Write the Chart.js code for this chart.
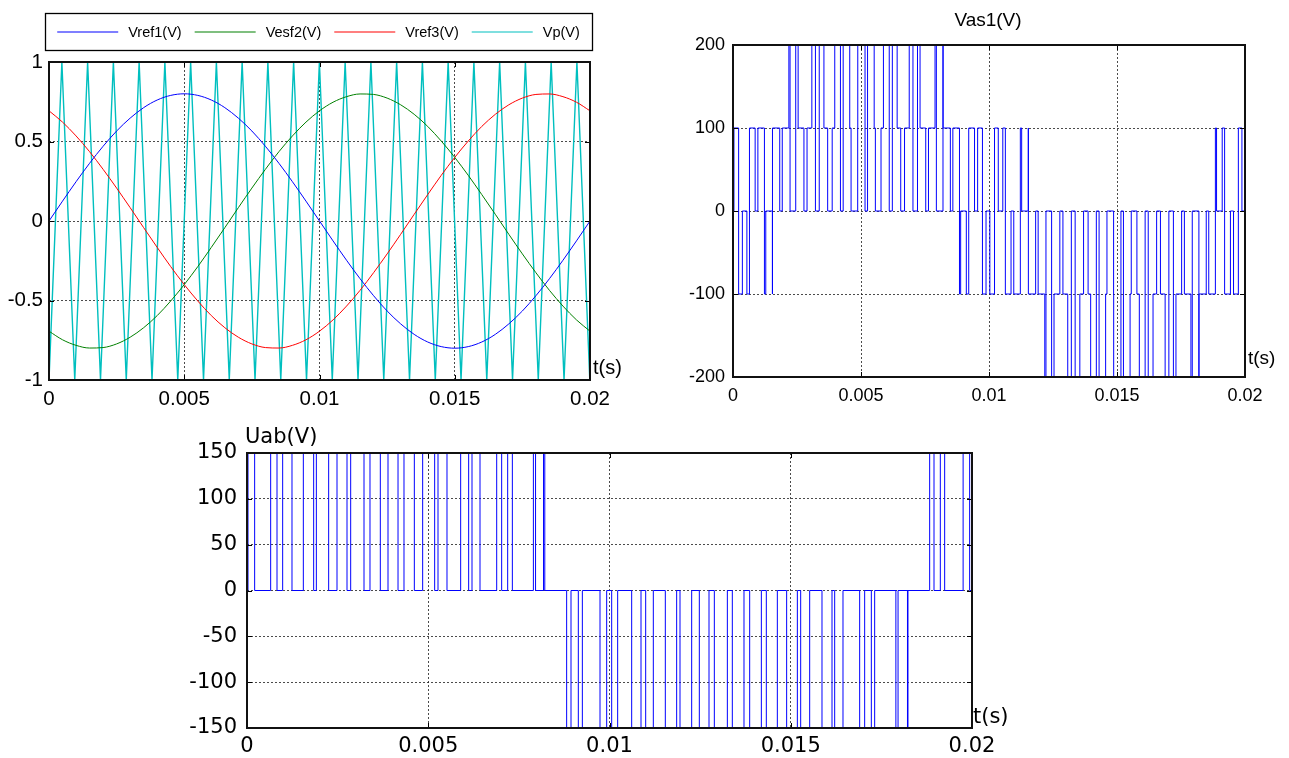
<!DOCTYPE html>
<html>
<head>
<meta charset="utf-8">
<script src="https://cdn.jsdelivr.net/npm/chart.js@4.4.1/dist/chart.umd.min.js"></script>
<style>
  html, body { margin: 0; padding: 0; background: #ffffff; }
  body { width: 1289px; height: 758px; position: relative; overflow: hidden; }
  canvas { position: absolute; left: 0; top: 0; }
</style>
</head>
<body>
<canvas id="c1" width="1289" height="758"></canvas>
<canvas id="c2" width="1289" height="758"></canvas>
<canvas id="c3" width="1289" height="758"></canvas>
<script>
// ---------------- DATA ----------------
// Top-left: reference sines (time in s)
const sineTime = [0,0.0005,0.001,0.0015,0.002,0.0025,0.003,0.0035,0.004,0.0045,0.005,0.0055,0.006,0.0065,0.007,0.0075,0.008,0.0085,0.009,0.0095,0.01,0.0105,0.011,0.0115,0.012,0.0125,0.013,0.0135,0.014,0.0145,0.015,0.0155,0.016,0.0165,0.017,0.0175,0.018,0.0185,0.019,0.0195,0.02];
const vref1 = [0,0.125,0.247,0.363,0.470,0.566,0.647,0.713,0.761,0.790,0.800,0.790,0.761,0.713,0.647,0.566,0.470,0.363,0.247,0.125,0,-0.125,-0.247,-0.363,-0.470,-0.566,-0.647,-0.713,-0.761,-0.790,-0.800,-0.790,-0.761,-0.713,-0.647,-0.566,-0.470,-0.363,-0.247,-0.125,0];
const vesf2 = [-0.693,-0.747,-0.782,-0.799,-0.796,-0.773,-0.731,-0.671,-0.595,-0.503,-0.400,-0.287,-0.166,-0.042,0.084,0.207,0.325,0.436,0.535,0.622,0.693,0.747,0.782,0.799,0.796,0.773,0.731,0.671,0.595,0.503,0.400,0.287,0.166,0.042,-0.084,-0.207,-0.325,-0.436,-0.535,-0.622,-0.693];
const vref3 = [0.693,0.622,0.535,0.436,0.325,0.207,0.084,-0.042,-0.166,-0.287,-0.400,-0.503,-0.595,-0.671,-0.731,-0.773,-0.796,-0.799,-0.782,-0.747,-0.693,-0.622,-0.535,-0.436,-0.325,-0.207,-0.084,0.042,0.166,0.287,0.400,0.503,0.595,0.671,0.731,0.773,0.796,0.799,0.782,0.747,0.693];
// Carrier Vp vertices (time in ms)
const vpTime = [0,0.476,0.952,1.428,1.904,2.380,2.856,3.332,3.808,4.284,4.760,5.236,5.712,6.188,6.664,7.140,7.616,8.092,8.568,9.044,9.520,9.996,10.472,10.948,11.424,11.900,12.376,12.852,13.328,13.804,14.280,14.756,15.232,15.708,16.184,16.660,17.136,17.612,18.088,18.564,19.040,19.516,19.992];
const vpValue = [-1,1,-1,1,-1,1,-1,1,-1,1,-1,1,-1,1,-1,1,-1,1,-1,1,-1,1,-1,1,-1,1,-1,1,-1,1,-1,1,-1,1,-1,1,-1,1,-1,1,-1,1,-1];

// Top-right: Vas1 switching instants (ms) and level held from that instant (V)
const vasTime = [0,0.037,0.220,0.366,
 0.543,0.643,0.865,0.972,1.228,1.280,
 1.539,1.542,1.826,1.924,2.183,2.229,
 2.450,2.544,2.771,2.892,3.080,3.220,
 3.369,3.552,3.698,3.875,3.975,4.197,
 4.304,4.560,4.612,4.871,4.874,5.158,
 5.256,5.515,5.561,5.782,5.876,6.103,
 6.224,6.412,6.552,6.701,6.884,7.030,
 7.207,7.307,7.529,7.636,7.892,7.944,
 8.203,8.206,8.490,8.588,8.847,8.893,
 9.114,9.208,9.435,9.556,9.744,9.884,
 10.033,10.216,10.362,10.539,10.639,10.861,
 10.968,11.224,11.276,11.535,11.538,11.822,
 11.920,12.179,12.225,12.446,12.540,12.767,
 12.888,13.076,13.216,13.365,13.548,13.694,
 13.871,13.971,14.193,14.300,14.556,14.608,
 14.867,14.870,15.154,15.252,15.511,15.557,
 15.778,15.872,16.099,16.220,16.408,16.548,
 16.697,16.880,17.026,17.203,17.303,17.525,
 17.632,17.888,17.940,18.199,18.202,18.486,
 18.584,18.843,18.889,19.110,19.204,19.431,
 19.552,19.740,19.880,20.000];
const vasValue = [0,100,-100,0,
 -100,100,0,100,-100,0,
 -100,100,0,100,200,0,
 200,100,0,100,200,0,
 200,100,0,100,200,0,
 200,100,0,100,200,0,
 200,100,0,100,200,0,
 200,100,0,100,200,0,
 200,100,0,100,200,0,
 200,100,0,100,-100,0,
 -100,100,0,100,-100,0,
 -100,100,0,100,-100,0,
 -100,100,0,100,-100,0,
 -100,-200,0,-200,-100,0,
 -100,-200,0,-200,-100,0,
 -100,-200,0,-200,-100,0,
 -100,-200,0,-200,-100,0,
 -100,-200,0,-200,-100,0,
 -100,-200,0,-200,-100,0,
 -100,-200,0,-200,-100,0,
 -100,100,0,100,-100,0,
 -100,100,0,0];

// Bottom: Uab switching instants (ms) and level held from that instant (V)
const uabTime = [0,
 0.028,0.211,0.653,0.828,0.984,1.241,1.554,1.839,1.913,2.253,2.483,2.759,2.860,3.228,3.393,3.678,3.890,4.166,
 4.331,4.616,4.846,5.177,5.269,5.517,5.894,6.115,6.207,6.428,6.888,7.025,7.191,7.320,7.900,7.960,8.180,8.215,
 8.818,8.938,9.140,9.251,9.738,9.922,10.060,10.225,10.612,10.869,10.998,11.209,11.540,11.853,11.945,12.267,
 12.478,12.745,12.892,13.251,13.388,13.710,13.867,14.189,14.326,14.630,14.887,15.182,15.274,15.522,15.862,16.138,
 16.212,16.441,16.901,17.039,17.223,17.315,17.900,17.960,18.220,18.234,
 18.832,18.952,19.126,19.246,19.755,19.935,
 20.000];
const uabValue = [0,
 150,0,150,0,150,0,150,0,150,0,150,0,150,0,150,0,150,0,
 150,0,150,0,150,0,150,0,150,0,150,0,150,0,150,0,150,0,
 -150,0,-150,0,-150,0,-150,0,-150,0,-150,0,-150,0,-150,0,
 -150,0,-150,0,-150,0,-150,0,-150,0,-150,0,-150,0,-150,0,
 -150,0,-150,0,-150,0,-150,0,-150,0,
 150,0,150,0,150,0,
 0];

// Tick values
const timeTicks = [0, 0.005, 0.01, 0.015, 0.02];
const refTicks = [-1, -0.5, 0, 0.5, 1];
const vasTicks = [-200, -100, 0, 100, 200];
const uabTicks = [-150, -100, -50, 0, 50, 100, 150];

// Labels
const seriesNames = ['Vref1(V)', 'Vesf2(V)', 'Vref3(V)', 'Vp(V)'];
const vasTitle = 'Vas1(V)';
const uabTitle = 'Uab(V)';
const timeLabel = 't(s)';

// ---------------- HELPERS ----------------
const pts = (xs, ys, k) => xs.map((x, i) => ({ x: x * (k || 1), y: ys[i] }));
const fmt = v => String(parseFloat(Number(v).toFixed(4)));
const setTicks = arr => s => { s.ticks = arr.map(v => ({ value: v })); };

const framePlugin = {
  id: 'frame',
  afterDraw(chart, args, opts) {
    const { ctx, chartArea: a, scales } = chart;
    ctx.save();
    ctx.strokeStyle = '#000';
    ctx.lineWidth = 1;
    ctx.setLineDash([]);
    const L = 5;
    scales.x.ticks.forEach(t => {
      const x = Math.round(scales.x.getPixelForValue(t.value)) + 0.5;
      ctx.beginPath(); ctx.moveTo(x, a.bottom); ctx.lineTo(x, a.bottom - L);
      ctx.moveTo(x, a.top); ctx.lineTo(x, a.top + L); ctx.stroke();
    });
    scales.y.ticks.forEach(t => {
      const y = Math.round(scales.y.getPixelForValue(t.value)) + 0.5;
      ctx.beginPath(); ctx.moveTo(a.left, y); ctx.lineTo(a.left + L, y);
      ctx.moveTo(a.right, y); ctx.lineTo(a.right - L, y); ctx.stroke();
    });
    ctx.lineWidth = 2;
    ctx.strokeStyle = '#111';
    ctx.strokeRect(a.left, a.top, a.right - a.left, a.bottom - a.top);
    // extra text labels
    (opts.texts || []).forEach(t => {
      ctx.font = t.font;
      ctx.fillStyle = '#000';
      ctx.textAlign = t.align || 'left';
      ctx.textBaseline = 'middle';
      ctx.fillText(t.text, t.x, t.y);
    });
    // boxed legend
    if (opts.legend) {
      const lg = opts.legend;
      ctx.font = lg.font;
      const sets = chart.data.datasets;
      const widths = sets.map(d => ctx.measureText(d.label).width);
      const total = widths.reduce((s, w) => s + w, 0) + sets.length * (lg.line + lg.gap) + (sets.length - 1) * lg.sep;
      let x = lg.x + (lg.w - total) / 2;
      const yc = lg.y + lg.h / 2;
      ctx.fillStyle = '#fff';
      ctx.fillRect(lg.x, lg.y, lg.w, lg.h);
      ctx.lineWidth = 1.3; ctx.strokeStyle = '#000';
      ctx.strokeRect(lg.x + 0.5, lg.y + 0.5, lg.w, lg.h);
      sets.forEach((d, i) => {
        ctx.strokeStyle = d.borderColor; ctx.lineWidth = 1.2;
        ctx.beginPath(); ctx.moveTo(x, yc + 0.5); ctx.lineTo(x + lg.line, yc + 0.5); ctx.stroke();
        x += lg.line + lg.gap;
        ctx.fillStyle = '#000'; ctx.textAlign = 'left'; ctx.textBaseline = 'middle';
        ctx.fillText(d.label, x, yc + 1);
        x += widths[i] + lg.sep;
      });
    }
    ctx.restore();
  }
};

function axis(tickArr, opt) {
  return {
    type: 'linear',
    min: opt.min, max: opt.max,
    afterBuildTicks: setTicks(tickArr),
    afterFit: s => { if (opt.w !== undefined) s.width = opt.w; if (opt.h !== undefined) s.height = opt.h; },
    grid: { color: 'rgba(30,30,30,0.8)', lineWidth: 1, drawTicks: false },
    border: { display: false, dash: [2, 2] },
    ticks: {
      autoSkip: false, maxRotation: 0, minRotation: 0,
      padding: opt.pad, color: '#000',
      font: { family: opt.family, size: opt.size },
      callback: v => fmt(v)
    }
  };
}

const base = {
  responsive: false,
  devicePixelRatio: 1,
  animation: false,
  events: [],
  plugins: { legend: { display: false }, tooltip: { enabled: false }, title: { display: false } },
  elements: { point: { radius: 0 } }
};

// ---------------- CHART 1 (top-left) ----------------
const LS = 'Liberation Sans, Arial, sans-serif';
new Chart(document.getElementById('c1'), {
  type: 'line',
  data: {
    datasets: [
      { label: seriesNames[0], data: pts(sineTime, vref1), borderColor: '#0000ff', borderWidth: 1, cubicInterpolationMode: 'monotone', clip: 2 },
      { label: seriesNames[1], data: pts(sineTime, vesf2), borderColor: '#008000', borderWidth: 1, cubicInterpolationMode: 'monotone', clip: 2 },
      { label: seriesNames[2], data: pts(sineTime, vref3), borderColor: '#ff0000', borderWidth: 1, cubicInterpolationMode: 'monotone', clip: 2 },
      { label: seriesNames[3], data: pts(vpTime, vpValue, 0.001), borderColor: '#00bfbf', borderWidth: 1.4, clip: 2 }
    ]
  },
  options: Object.assign({}, base, {
    layout: { padding: { left: 0, right: 699, top: 62, bottom: 338 } },
    scales: {
      x: axis(timeTicks, { min: 0, max: 0.02, h: 40, pad: 7, family: LS, size: 20.5 }),
      y: axis(refTicks, { min: -1, max: 1, w: 49, pad: 6, family: LS, size: 20.5 })
    },
    plugins: Object.assign({}, base.plugins, {
      frame: {
        texts: [{ text: timeLabel, x: 593, y: 368, font: '20px ' + LS }],
        legend: { x: 45, y: 13, w: 547, h: 37, font: '14.5px ' + LS, line: 61, gap: 10, sep: 13 }
      }
    })
  }),
  plugins: [framePlugin]
});

// ---------------- CHART 2 (top-right) ----------------
new Chart(document.getElementById('c2'), {
  type: 'line',
  data: {
    datasets: [
      { label: vasTitle, data: pts(vasTime, vasValue, 0.001), borderColor: '#0000ff', borderWidth: 1, stepped: 'before', clip: 3 }
    ]
  },
  options: Object.assign({}, base, {
    layout: { padding: { left: 673, right: 44, top: 45, bottom: 346 } },
    scales: {
      x: axis(timeTicks, { min: 0, max: 0.02, h: 35, pad: 8, family: LS, size: 18 }),
      y: axis(vasTicks, { min: -200, max: 200, w: 60, pad: 8, family: LS, size: 18 })
    },
    plugins: Object.assign({}, base.plugins, {
      frame: {
        texts: [
          { text: vasTitle, x: 988, y: 21, font: '19px ' + LS, align: 'center' },
          { text: timeLabel, x: 1248, y: 359, font: '19px ' + LS }
        ]
      }
    })
  }),
  plugins: [framePlugin]
});

// ---------------- CHART 3 (bottom) ----------------
const DJ = 'DejaVu Sans, sans-serif';
new Chart(document.getElementById('c3'), {
  type: 'line',
  data: {
    datasets: [
      { label: uabTitle, data: pts(uabTime, uabValue, 0.001), borderColor: '#0000ff', borderWidth: 1, stepped: 'before', clip: 3 }
    ]
  },
  options: Object.assign({}, base, {
    layout: { padding: { left: 187, right: 317, top: 453, bottom: 0 } },
    scales: {
      x: axis(timeTicks, { min: 0, max: 0.02, h: 30, pad: 6, family: DJ, size: 21 }),
      y: axis(uabTicks, { min: -150, max: 150, w: 60, pad: 10, family: DJ, size: 21 })
    },
    plugins: Object.assign({}, base.plugins, {
      frame: {
        texts: [
          { text: uabTitle, x: 245, y: 438, font: '21px ' + DJ },
          { text: timeLabel, x: 973, y: 718, font: '21px ' + DJ }
        ]
      }
    })
  }),
  plugins: [framePlugin]
});
</script>
</body>
</html>
